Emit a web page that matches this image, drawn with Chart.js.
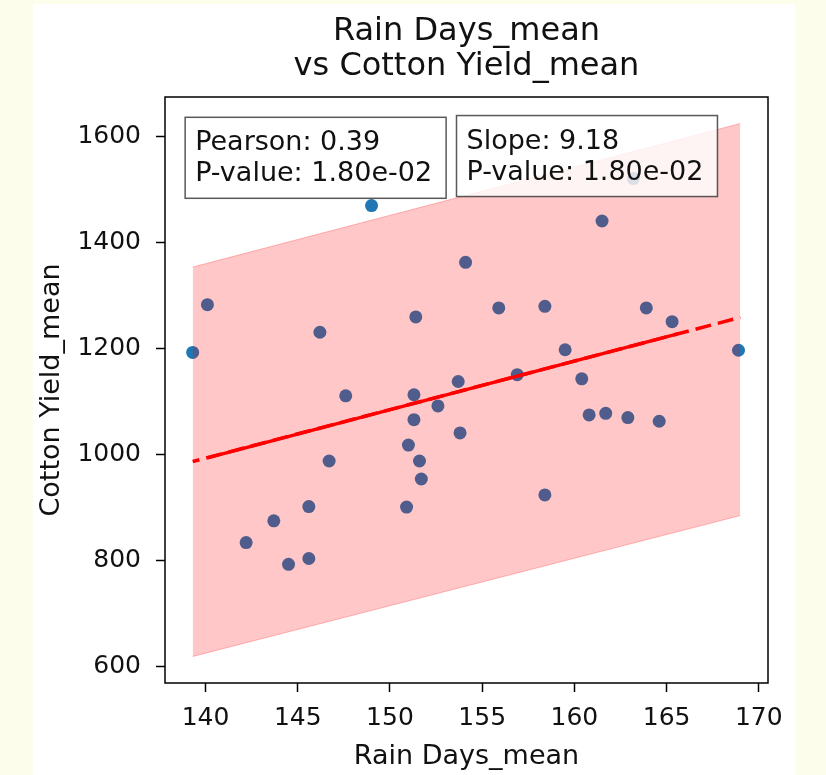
<!DOCTYPE html>
<html>
<head>
<meta charset="utf-8">
<script src="https://cdn.jsdelivr.net/npm/chart.js@4.4.1/dist/chart.umd.min.js"></script>
<style>
  html, body { margin: 0; padding: 0; background: #fdfdec; }
  body { width: 826px; height: 775px; position: relative; overflow: hidden; }
  #card { position: absolute; left: 33px; top: 4px; width: 762px; height: 771px; background: #ffffff; }
  canvas { display: block; }
</style>
</head>
<body>
<div id="card"><canvas id="chart" width="762" height="771"></canvas></div>
<script>
  // Puntos (Rain Days_mean, Cotton Yield_mean)
  const RAIN_DAYS = [
    139.3, 140.1, 142.2, 143.7, 144.5, 145.6, 145.6, 146.2, 146.7, 147.6,
    149.0, 150.9, 151.0, 151.3, 151.3, 151.4, 151.6, 151.7, 152.6, 153.7,
    153.8, 154.1, 155.9, 156.9, 158.4, 158.4, 159.5, 160.4, 160.8, 161.5,
    161.7, 162.9, 163.2, 163.9, 164.6, 165.3, 168.9
  ];
  const COTTON_YIELD = [
    1193, 1283, 834, 875, 793, 902, 804, 1231, 988, 1111,
    1470, 901, 1018, 1113, 1066, 1260, 988, 954, 1092, 1138,
    1041, 1363, 1277, 1151, 1280, 924, 1198, 1143, 1075, 1441,
    1078, 1070, 1521, 1277, 1063, 1251, 1197
  ];

  // Recta de regresión y banda de confianza (extremos leídos)
  const FIT_X = [139.3, 169.0];
  const FIT_Y = [987, 1259];
  const FIT_SOLID_X = [140.1, 165.6];
  const FIT_SOLID_Y = [994, 1228];
  const BAND_LOW = [619, 885];
  const BAND_HIGH = [1354, 1625];

  const X_TICKS = [140, 145, 150, 155, 160, 165, 170];
  const Y_TICKS = [600, 800, 1000, 1200, 1400, 1600];
  const X_RANGE = [137.8, 170.5];
  const Y_RANGE = [569, 1675];

  const STATS_LEFT = ["Pearson: 0.39", "P-value: 1.80e-02"];
  const STATS_RIGHT = ["Slope: 9.18", "P-value: 1.80e-02"];

  const FONT = '"DejaVu Sans", sans-serif';

  function pts(xs, ys) {
    return xs.map(function (x, i) { return { x: x, y: ys[i] }; });
  }

  // Marco completo del eje + cajas de texto
  const frameAndBoxes = {
    id: "frameAndBoxes",
    afterDatasetsDraw: function (chart) {
      const ctx = chart.ctx;
      const a = chart.chartArea;
      const w = a.right - a.left, h = a.bottom - a.top;

      function box(lines, fx, fy) {
        ctx.save();
        ctx.font = "27px " + FONT;
        const lh = 31;
        let maxW = 0;
        lines.forEach(function (l) { maxW = Math.max(maxW, ctx.measureText(l).width); });
        const tx = a.left + fx * w;
        const ty = a.top + (1 - fy) * h;
        const bx = tx - 10, by = ty - 9;
        const bw = maxW + 24, bh = lh * lines.length + 19;
        ctx.fillStyle = "rgba(255,255,255,0.8)";
        ctx.fillRect(bx, by, bw, bh);
        ctx.strokeStyle = "rgba(60,60,60,0.85)";
        ctx.lineWidth = 1.5;
        ctx.strokeRect(bx, by, bw, bh);
        ctx.fillStyle = "#111";
        ctx.textBaseline = "alphabetic";
        ctx.textAlign = "left";
        lines.forEach(function (l, i) { ctx.fillText(l, tx, ty + 24 + i * lh); });
        ctx.restore();
      }
      box(STATS_LEFT, 0.05, 0.95);
      box(STATS_RIGHT, 0.5, 0.953);

      ctx.save();
      ctx.strokeStyle = "#000";
      ctx.lineWidth = 1.5;
      ctx.strokeRect(a.left, a.top, w, h);
      ctx.restore();
    }
  };

  function plain(v) { return String(v); }

  new Chart(document.getElementById("chart"), {
    data: {
      datasets: [
        {
          type: "scatter",
          data: pts(RAIN_DAYS, COTTON_YIELD),
          backgroundColor: "#1f77b4",
          borderWidth: 0,
          pointRadius: 6.5,
          order: 4
        },
        {
          type: "line",
          data: pts(FIT_X, BAND_LOW),
          borderColor: "rgba(255,0,0,0.25)",
          borderWidth: 1,
          pointRadius: 0,
          fill: false,
          order: 3
        },
        {
          type: "line",
          data: pts(FIT_X, BAND_HIGH),
          borderColor: "rgba(255,0,0,0.25)",
          borderWidth: 1,
          pointRadius: 0,
          backgroundColor: "rgba(255,0,0,0.22)",
          fill: "-1",
          order: 3
        },
        {
          type: "line",
          data: pts(FIT_X, FIT_Y),
          borderColor: "#ff0000",
          borderWidth: 3.5,
          borderDash: [16, 7],
          borderDashOffset: 9,
          pointRadius: 0,
          fill: false,
          order: 2
        },
        {
          type: "line",
          data: pts(FIT_SOLID_X, FIT_SOLID_Y),
          borderColor: "#ff0000",
          borderWidth: 3.5,
          pointRadius: 0,
          fill: false,
          order: 1
        }
      ]
    },
    options: {
      responsive: false,
      animation: false,
      layout: { padding: { left: 0, right: 27, top: 0, bottom: 0 } },
      plugins: {
        legend: { display: false },
        tooltip: { enabled: false },
        title: {
          display: true,
          fullSize: false,
          text: ["Rain Days_mean", "vs Cotton Yield_mean"],
          color: "#111",
          font: { family: FONT, size: 32, weight: "normal", lineHeight: 1.1 },
          padding: { top: 10, bottom: 12.6 }
        }
      },
      scales: {
        x: {
          type: "linear",
          min: X_RANGE[0],
          max: X_RANGE[1],
          afterBuildTicks: function (s) { s.ticks = X_TICKS.map(function (v) { return { value: v }; }); },
          afterFit: function (s) { s.height = 92; },
          border: { display: false },
          grid: { drawOnChartArea: false, tickLength: 9, tickColor: "#000", tickWidth: 1.5 },
          ticks: { color: "#111", padding: 11, font: { family: FONT, size: 25 }, callback: plain },
          title: { display: true, text: "Rain Days_mean", color: "#111", font: { family: FONT, size: 27 }, padding: { top: 2, bottom: 2 } }
        },
        y: {
          type: "linear",
          min: Y_RANGE[0],
          max: Y_RANGE[1],
          afterBuildTicks: function (s) { s.ticks = Y_TICKS.map(function (v) { return { value: v }; }); },
          afterFit: function (s) { s.width = 132; },
          border: { display: false },
          grid: { drawOnChartArea: false, tickLength: 9, tickColor: "#000", tickWidth: 1.5 },
          ticks: { color: "#111", padding: 15, font: { family: FONT, size: 25 }, callback: plain },
          title: { display: true, text: "Cotton Yield_mean", color: "#111", font: { family: FONT, size: 27 }, padding: { top: 2.5, bottom: 2 } }
        }
      }
    },
    plugins: [frameAndBoxes]
  });
</script>
</body>
</html>
